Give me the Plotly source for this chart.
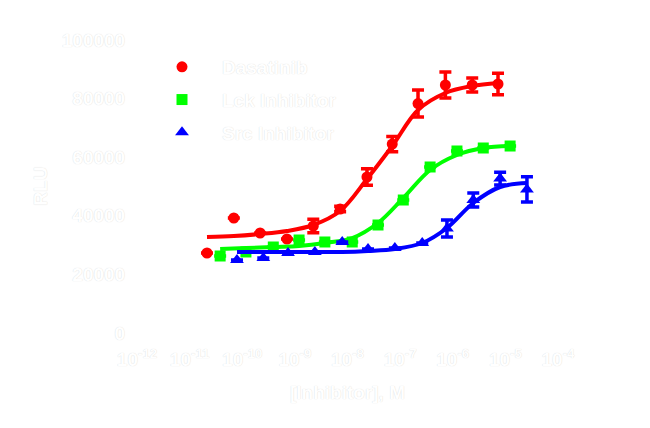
import plotly.graph_objects as go

# ---- data ----
series_names = ["Dasatinib", "Lck Inhibitor", "Src Inhibitor"]

dasatinib_logc = [-10.67, -10.16, -9.66, -9.15, -8.65, -8.14, -7.63, -7.15, -6.66, -6.14, -5.63, -5.14]
dasatinib_y = [27300, 39250, 34130, 32080, 36520, 42320, 53240, 64500, 78300, 84640, 84640, 84980]
dasatinib_err = [0, 0, 0, 0, 2300, 900, 2800, 2600, 4600, 4400, 2400, 3700]
dasatinib_fit = [32760, 33110, 33790, 34810, 36860, 41640, 52560, 63820, 76110, 81910, 84300, 85330]

lck_logc = [-10.42, -9.93, -9.41, -8.92, -8.43, -7.91, -7.42, -6.94, -6.43, -5.92, -5.42, -4.91]
lck_y = [26280, 27650, 29350, 31740, 31060, 31060, 36860, 45390, 56660, 62120, 63140, 63820]
lck_err = [0, 0, 0, 0, 0, 0, 0, 0, 0, 0, 0, 0]
lck_fit = [28670, 29010, 29350, 29690, 30720, 32420, 37540, 46080, 55630, 60750, 63140, 63820]

src_logc = [-10.10, -9.60, -9.13, -8.62, -8.10, -7.61, -7.10, -6.58, -6.11, -5.61, -5.10, -4.59]
src_y = [24910, 25600, 27300, 27650, 31060, 28670, 29010, 30720, 35700, 45400, 52700, 49000]
src_err = [0, 0, 0, 0, 0, 0, 0, 0, 2900, 2400, 2200, 4300]
src_fit = [27650, 27650, 27650, 27650, 27650, 27990, 28670, 30720, 35840, 44370, 49830, 51200]

x_tickvals_log = [-12, -11, -10, -9, -8, -7, -6, -5, -4]
x_ticktext = ["10<sup>-12</sup>", "10<sup>-11</sup>", "10<sup>-10</sup>", "10<sup>-9</sup>",
              "10<sup>-8</sup>", "10<sup>-7</sup>", "10<sup>-6</sup>", "10<sup>-5</sup>", "10<sup>-4</sup>"]
y_tickvals = [0, 20000, 40000, 60000, 80000, 100000]
y_ticktext = ["0", "20000", "40000", "60000", "80000", "100000"]

x_title = "[Inhibitor], M"
y_title = "RLU"

# ---- styling ----
colors = ["#FF0000", "#00FF00", "#0000FF"]
symbols = ["circle", "square", "triangle-up"]
sizes = [11, 11, 12]
FONT = "Liberation Sans, Arial, sans-serif"
TXT = dict(family=FONT, size=19, color="white", weight="bold",
           shadow="0px 0px 1px rgba(0,0,0,0.18)")

fig = go.Figure()

all_series = [
    (dasatinib_logc, dasatinib_y, dasatinib_err, dasatinib_fit),
    (lck_logc, lck_y, lck_err, lck_fit),
    (src_logc, src_y, src_err, src_fit),
]

for i, (logc, yv, err, fit) in enumerate(all_series):
    xs = [10 ** v for v in logc]
    fig.add_trace(go.Scatter(
        x=xs, y=fit, mode="lines", line=dict(color=colors[i], width=4, shape="spline"),
        showlegend=False, hoverinfo="skip", cliponaxis=False))
    fig.add_trace(go.Scatter(
        x=xs, y=yv, mode="markers", name=series_names[i], legendgroup=f"g{i}",
        marker=dict(color=colors[i], symbol=symbols[i], size=sizes[i], line=dict(width=0)),
        error_y=dict(type="data", array=err, visible=True, color=colors[i],
                     thickness=3.5, width=6),
        cliponaxis=False))

# y-axis title as a rotated annotation placed left of the tick labels
fig.add_annotation(text=y_title, xref="paper", yref="paper", x=-0.23, y=0.5,
                   xanchor="center", yanchor="middle", textangle=-90,
                   showarrow=False, font=TXT)

fig.update_layout(
    width=650, height=428,
    margin=dict(l=137, r=92, t=40, b=95, autoexpand=False),
    paper_bgcolor="white", plot_bgcolor="white",
    showlegend=True,
    legend=dict(x=142 / 650, y=1 - 48 / 428, xanchor="left", yanchor="top",
                xref="container", yref="container",
                font=TXT, bgcolor="rgba(0,0,0,0)", itemwidth=70,
                tracegroupgap=5),
    xaxis=dict(type="log", range=[-12, -4], automargin=True,
               tickvals=[10 ** v for v in x_tickvals_log], ticktext=x_ticktext,
               tickangle=0,
               tickfont=TXT, showgrid=False, zeroline=False,
               showline=True, linecolor="white", linewidth=2,
               ticks="outside", tickcolor="white", ticklen=8,
               title=dict(text=x_title, font=TXT, standoff=17)),
    yaxis=dict(range=[0, 100000], tickvals=y_tickvals, ticktext=y_ticktext,
               automargin=True,
               tickfont=TXT, showgrid=False, zeroline=False,
               showline=True, linecolor="white", linewidth=2,
               ticks="outside", tickcolor="white", ticklen=6),
)

fig.write_html("out.html", config={"displayModeBar": False},
               post_script="document.body.style.margin='0px';")
